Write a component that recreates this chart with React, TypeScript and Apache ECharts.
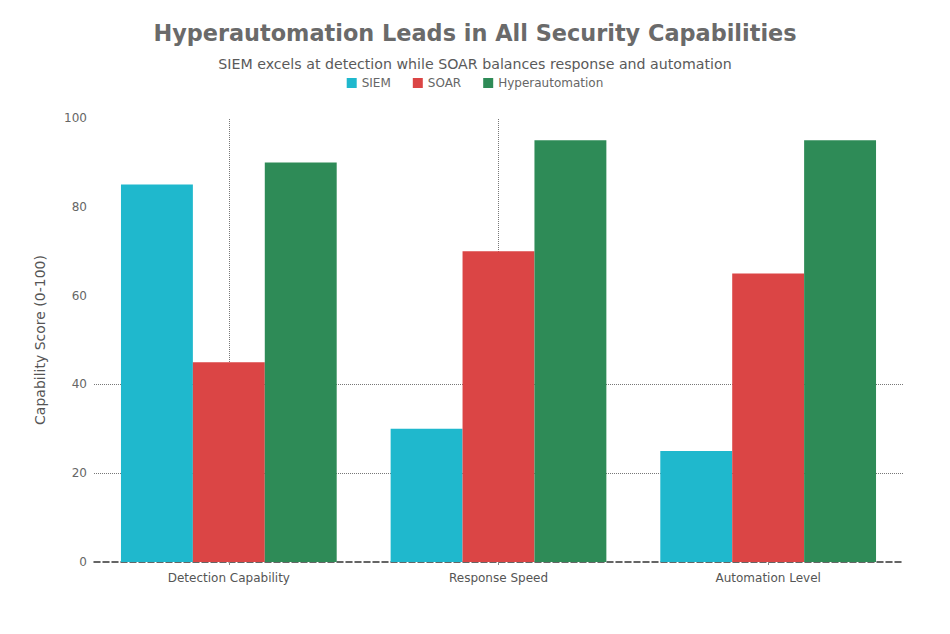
import React, { useEffect, useRef } from "react";
import * as echarts from "echarts";

const categories = ["Detection Capability", "Response Speed", "Automation Level"];
const siem = [85, 30, 25];
const soar = [45, 70, 65];
const hyper = [90, 95, 95];
const seriesNames = ["SIEM", "SOAR", "Hyperautomation"];
const gridLevels = [20, 40];
const verticalGuides = ["Detection Capability", "Response Speed"];

const colors = ["#1FB8CD", "#DB4545", "#2E8B57"];
const font = "DejaVu Sans, sans-serif";

export default function App() {
  const ref = useRef<HTMLDivElement>(null);
  useEffect(() => {
    if (!ref.current) return;
    const chart = echarts.init(ref.current, undefined, { renderer: "svg" });
    const guideStyle = { type: "dotted", color: "#777", width: 1 };
    chart.setOption({
      animation: false,
      backgroundColor: "#fff",
      color: colors,
      title: [
        {
          text: "Hyperautomation Leads in All Security Capabilities",
          left: "center",
          top: 17,
          textStyle: { fontFamily: font, fontSize: 22.4, fontWeight: "bold", color: "#6a6a6a" },
        },
        {
          text: "SIEM excels at detection while SOAR balances response and automation",
          left: "center",
          top: 52,
          textStyle: { fontFamily: font, fontSize: 14.2, fontWeight: "normal", color: "#5a5a5a" },
        },
      ],
      legend: {
        top: 72,
        left: "center",
        itemWidth: 10,
        itemHeight: 10,
        itemGap: 22,
        icon: "rect",
        data: seriesNames,
        textStyle: { fontFamily: font, fontSize: 12, color: "#666" },
      },
      grid: { left: 94, right: 47, top: 118, bottom: 72 },
      xAxis: {
        type: "category",
        data: categories,
        axisLine: { show: true, lineStyle: { type: "dashed", color: "#333", width: 1.5 } },
        axisTick: { show: true, alignWithLabel: true, length: 3, lineStyle: { color: "#888" } },
        axisLabel: { fontFamily: font, fontSize: 12, color: "#555", margin: 10 },
        splitLine: { show: false },
      },
      yAxis: {
        type: "value",
        min: 0,
        max: 100,
        interval: 20,
        name: "Capability Score (0-100)",
        nameLocation: "middle",
        nameGap: 47,
        nameTextStyle: { fontFamily: font, fontSize: 14, color: "#555" },
        axisLine: { show: false },
        axisTick: { show: false },
        axisLabel: { fontFamily: font, fontSize: 12, color: "#666", margin: 7 },
        splitLine: { show: false },
      },
      series: [
        { name: seriesNames[0], type: "bar", data: siem, barGap: "0%", barCategoryGap: "20%", z: 2 },
        {
          name: seriesNames[1],
          type: "bar",
          data: soar,
          barGap: "0%",
          barCategoryGap: "20%",
          z: 2,
          markLine: {
            silent: true,
            symbol: "none",
            z: 1,
            label: { show: false },
            lineStyle: guideStyle,
            data: [
              ...gridLevels.map((v) => ({ yAxis: v })),
              ...verticalGuides.map((c) => ({ xAxis: c })),
            ],
          },
        },
        { name: seriesNames[2], type: "bar", data: hyper, barGap: "0%", barCategoryGap: "20%", z: 2 },
      ],
    });
    return () => chart.dispose();
  }, []);
  return (
    <div
      ref={ref}
      style={{ position: "fixed", left: 0, top: 0, width: 950, height: 634 }}
    />
  );
}
